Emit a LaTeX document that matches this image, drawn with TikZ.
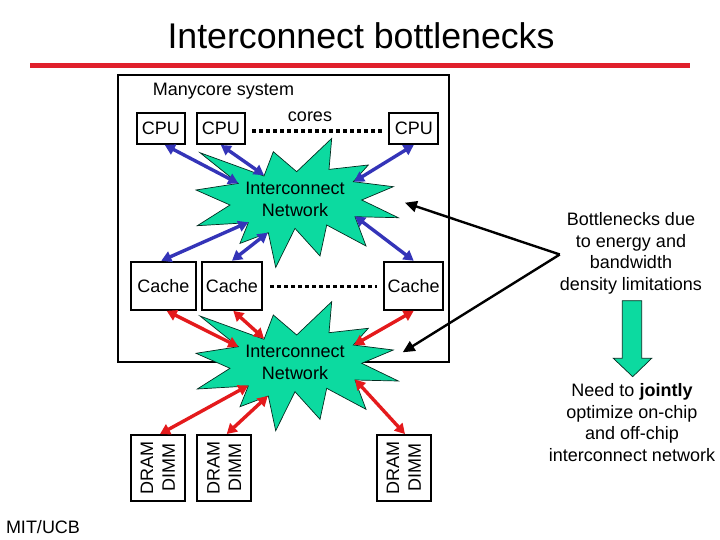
\documentclass[tikz,border=0pt]{standalone}
\usepackage{fontspec}
\setmainfont{Liberation Sans}
\usepackage{tikz}
\usetikzlibrary{arrows.meta}
\definecolor{netgreen}{HTML}{0CDAA0}
\definecolor{busblue}{HTML}{3434B8}
\definecolor{busred}{HTML}{E41A1C}
\definecolor{barred}{HTML}{E0202C}
\def\txt{\fontsize{18}{21.6}\selectfont}
\tikzset{
  box/.style={draw,line width=1.8pt,inner sep=0pt,font=\txt},
  label/.style={inner sep=0pt,font=\txt,align=center},
  blueline/.style={busblue,line width=3.4pt,{Triangle[length=10pt,width=11pt]}-{Triangle[length=10pt,width=11pt]}},
  redline/.style={busred,line width=3.4pt,{Triangle[length=10pt,width=11pt]}-{Triangle[length=10pt,width=11pt]}},
  blackline/.style={black,line width=2.4pt,-{Triangle[length=12pt,width=11pt]}},
  dotline/.style={line width=3.6pt,dash pattern=on 4pt off 3pt},
  netstar/.style={draw=black!80!netgreen,line width=0.7pt,fill=netgreen}
}
\begin{document}
\begin{tikzpicture}[x=1pt,y=-1pt]
    \useasboundingbox (0,0) rectangle (720,540);

    % Draw the title
    \node [inner sep=0pt,font=\fontsize{35.7}{40}\selectfont] (title) at (361,36) {Interconnect bottlenecks};
    \fill [barred] (30,63) rectangle (690,68);

    % Draw the system frame
    \draw [line width=1.8pt] (118.3,75) rectangle (449.3,361.7);
    \node [label] (sysname) at (223.5,91) {Manycore system};
    \node [label] (cores) at (310,117) {cores};

    % Draw the two networks
    \foreach \dy/\nm in {-163.3/neta,0/netb} {
      \begin{scope}[shift={(0,\dy)}]
        \draw [netstar] (331.7,301.7) -- (329,332.7) -- (368.3,328.3) -- (353.3,345)
              -- (393.3,350) -- (361.7,363.3) -- (398.3,381) -- (355,380)
              -- (366,409.3) -- (326.7,388.3) -- (320,419.3) -- (295,391.7)
              -- (275.7,430.7) -- (268.3,396) -- (240,406.7) -- (248.3,386)
              -- (197.3,389) -- (230,368.3) -- (196,353.3) -- (238.3,346.7)
              -- (200,316) -- (264,339.3) -- (273.3,315) -- (296.7,335) -- cycle;
        \node [label] (\nm) at (295,362.5) {Interconnect\\Network};
        \coordinate (\nm nw) at (238.3,346.7);
        \coordinate (\nm nn) at (264,338.5);
        \coordinate (\nm ne) at (354,345);
        \coordinate (\nm sw) at (248.3,385.5);
        \coordinate (\nm ss) at (267.8,396);
        \coordinate (\nm se) at (355,379.5);
      \end{scope}
    }

    % Draw the boxes
    \node [box,minimum width=48.3pt,minimum height=30.7pt] (cpua) at (160.8,128.7) {CPU};
    \node [box,minimum width=48.3pt,minimum height=30.7pt] (cpub) at (220.8,128.7) {CPU};
    \node [box,minimum width=49pt,minimum height=30.7pt] (cpuc) at (413.8,128.7) {CPU};
    \node [box,minimum width=65.3pt,minimum height=48.3pt] (cachea) at (163.3,285.8) {Cache};
    \node [box,minimum width=60.6pt,minimum height=48.3pt] (cacheb) at (232,285.8) {Cache};
    \node [box,minimum width=59.3pt,minimum height=48.3pt] (cachec) at (413.7,285.8) {Cache};
    \node [box,rotate=90,align=center,minimum width=65.7pt,minimum height=54.3pt] (dima) at (157.8,467.8) {DRAM\\DIMM};
    \node [box,rotate=90,align=center,minimum width=65.7pt,minimum height=54.3pt] (dimb) at (224.2,467.8) {DRAM\\DIMM};
    \node [box,rotate=90,align=center,minimum width=65.7pt,minimum height=54.3pt] (dimc) at (403.8,467.8) {DRAM\\DIMM};

    % Draw the dotted rows
    \draw [dotline] ([xshift=6.5pt,yshift=-2.3pt]cpub.east) -- ([xshift=-6.5pt,yshift=-2.3pt]cpuc.west);
    \draw [dotline] ([xshift=7pt,yshift=-0.7pt]cacheb.east) -- ([xshift=-6pt,yshift=-0.7pt]cachec.west);

    % Draw the links
    \draw [blueline] ([xshift=4pt]cpua.south) -- (netanw);
    \draw [blueline] (cpub.south) -- (netann);
    \draw [blueline] (cpuc.south) -- (netane);
    \draw [blueline] ([xshift=-2pt]cachea.north) -- (netasw);
    \draw [blueline] (cacheb.north) -- (netass);
    \draw [blueline] (cachec.north) -- (netase);
    \draw [redline] ([xshift=3.4pt]cachea.south) -- (netbnw);
    \draw [redline] ([xshift=1.3pt]cacheb.south) -- (netbnn);
    \draw [redline] (cachec.south) -- (netbne);
    \draw [redline] ([xshift=2.2pt]dima.east) -- (netbsw);
    \draw [redline] ([xshift=2.5pt]dimb.east) -- (netbss);
    \draw [redline] ([xshift=1.2pt]dimc.east) -- (netbse);

    % Draw the notes
    \node [label] (bottle) at (631,253.5) {Bottlenecks due\\to energy and\\bandwidth\\density limitations};
    \node [label] (need) at (632,422.5) {Need to \textbf{jointly}\\optimize on-chip\\and off-chip\\interconnect network};
    \coordinate (tipa) at (405,202.7);
    \coordinate (tipb) at (402.7,352.3);
    \draw [blackline] ([yshift=-1pt]bottle.west) -- (tipa);
    \draw [blackline] ([yshift=-1pt]bottle.west) -- (tipb);
    \draw [netstar] (622.3,300.7) -- (641.7,300.7) -- (641.7,358.3) -- (651.7,358.3)
          -- (632.7,376.7) -- (613.3,358.3) -- (622.3,358.3) -- cycle;

    \node [label] (mit) at (43,527) {MIT/UCB};
\end{tikzpicture}
\end{document}
